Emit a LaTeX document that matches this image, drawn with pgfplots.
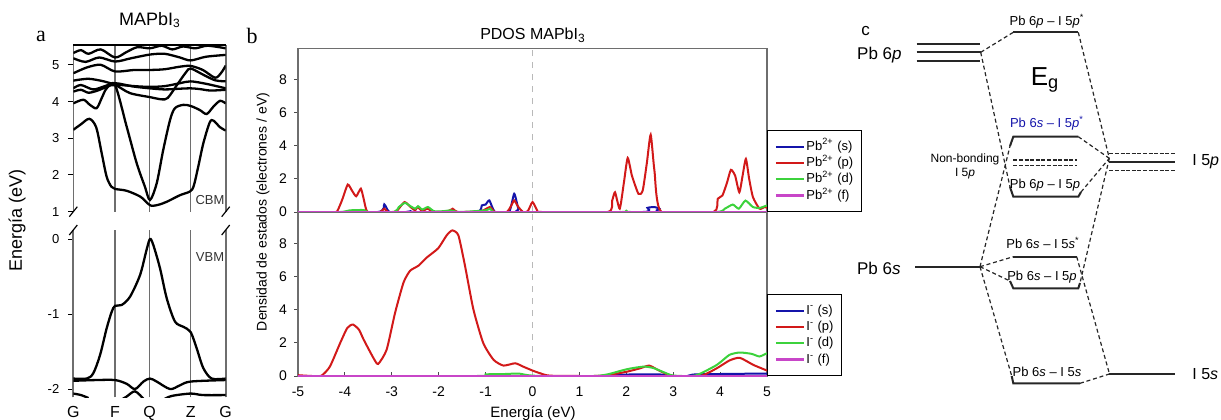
\documentclass[border=0pt]{standalone}
\usepackage{fontspec}
\setmainfont{Liberation Sans}
\newfontfamily\seriffont{Liberation Serif}
\usepackage{pgfplots}
\pgfplotsset{compat=1.18}

\definecolor{sblue}{RGB}{20,20,170}
\definecolor{pred}{RGB}{210,25,25}
\definecolor{dgreen}{RGB}{60,210,60}
\definecolor{fmag}{RGB}{200,70,200}
\definecolor{kline}{RGB}{110,110,110}

\tikzset{
  band/.style={black, line width=1.15pt, smooth, tension=0.5},
  curve/.style={line width=1pt, smooth, tension=0.35},
  mlevel/.style={black!85, line width=1pt},
  mlink/.style={black!85, line width=0.6pt, dash pattern=on 2pt off 1.4pt},
  mnb/.style={black!85, line width=0.6pt, dash pattern=on 2pt off 0.8pt},
}

\pgfplotsset{
  /pgf/number format/assume math mode=true,
  bandaxis/.style={scale only axis, width=76.2pt, xmin=0, xmax=1,
    separate axis lines, x axis line style={draw=none},
    y axis line style={kline, line width=0.8pt},
    ytick pos=left, tick align=outside, major tick length=2.5pt,
    tick style={black, line width=0.5pt},
    xmajorgrids, grid style={kline, line width=0.8pt},
    xtick style={draw=none},
    yticklabel style={font=\fontsize{6.5}{7}\selectfont, xshift=-1pt},
    clip mode=individual, no markers},
  pdos/.style={scale only axis, width=234.5pt, height=81.75pt,
    xmin=-5, xmax=5, ymin=0, ymax=9.88,
    axis line style={kline, line width=0.6pt},
    ytick={0,2,4,6,8}, ytick pos=left, tick align=outside,
    major tick length=2pt, tick style={black!70, line width=0.5pt},
    yticklabel style={font=\fontsize{7}{8}\selectfont},
    xticklabel style={font=\fontsize{7}{8}\selectfont},
    legend style={at={(1,0)}, anchor=south west, draw=black, line width=0.6pt,
      fill=white, font=\fontsize{6.5}{7}\selectfont, row sep=0.5pt,
      nodes={inner sep=0.6pt, text height=5pt, text depth=1.5pt},
      inner xsep=3.5pt, inner ysep=4pt},
    legend cell align=left,
    legend image code/.code={\draw[##1] (0pt,0pt) -- (14pt,0pt);},
    no markers},
}

\begin{document}
\begin{tikzpicture}
\useasboundingbox (0,0) rectangle (610.5pt,-209.5pt);

% ---------------- panel a: band structure (conduction part)
\begin{axis}[bandaxis, at={(36.65pt,-105.85pt)}, anchor=south west,
  height=83.35pt, ymin=1, ymax=5.54, ytick={1,2,3,4,5},
  xtick={0.274,0.5,0.77}, xticklabel=\empty]
\addplot[band] coordinates {(0,3.23)(0.05,3.38)(0.105,3.53)(0.15,3.3)(0.186,2.6)(0.219,1.95)(0.25,1.68)(0.274,1.62)(0.35,1.57)(0.44,1.41)(0.49,1.22)(0.515,1.16)(0.56,1.19)(0.613,1.27)(0.70,1.45)(0.765,1.55)(0.79,1.7)(0.82,2.23)(0.853,2.86)(0.895,3.43)(0.92,3.48)(0.963,3.3)(1,3.21)};
\addplot[band] coordinates {(0,3.95)(0.066,4.05)(0.109,3.91)(0.153,3.82)(0.186,4.09)(0.219,4.36)(0.274,4.45)(0.35,3.32)(0.416,2.32)(0.47,1.68)(0.503,1.32)(0.547,1.77)(0.59,2.68)(0.635,3.5)(0.667,3.82)(0.722,3.91)(0.77,3.88)(0.83,3.77)(0.875,3.66)(0.919,3.86)(0.963,4.02)(1,3.95)};
\addplot[band] coordinates {(0,4.27)(0.05,4.32)(0.1,4.24)(0.16,4.3)(0.22,4.4)(0.274,4.45)(0.372,4.23)(0.503,4.12)(0.58,4.06)(0.62,4.1)(0.68,4.45)(0.74,4.8)(0.77,4.9)(0.853,4.73)(0.93,4.58)(1,4.55)};
\addplot[band] coordinates {(0,4.36)(0.05,4.45)(0.13,4.33)(0.2,4.41)(0.274,4.5)(0.394,4.41)(0.503,4.36)(0.6,4.33)(0.7,4.35)(0.77,4.36)(0.83,4.34)(0.9,4.3)(1,4.32)};
\addplot[band] coordinates {(0,4.57)(0.1,4.62)(0.2,4.55)(0.274,4.47)(0.4,4.42)(0.503,4.4)(0.6,4.42)(0.70,4.5)(0.77,4.55)(0.875,4.48)(1,4.36)};
\addplot[band] coordinates {(0,4.77)(0.09,4.93)(0.18,5.0)(0.274,4.82)(0.4,4.86)(0.503,4.86)(0.6,4.88)(0.7,4.95)(0.77,4.97)(0.85,4.86)(0.93,4.65)(0.97,4.78)(1,4.98)};
\addplot[band] coordinates {(0,5.18)(0.08,5.08)(0.17,5.2)(0.274,5.09)(0.38,5.18)(0.503,5.28)(0.6,5.3)(0.7,5.2)(0.77,5.12)(0.87,5.22)(1,5.27)};
\addplot[band] coordinates {(0,5.32)(0.05,5.4)(0.1,5.3)(0.18,5.42)(0.274,5.2)(0.35,5.35)(0.42,5.48)(0.503,5.45)(0.58,5.52)(0.65,5.42)(0.72,5.5)(0.8,5.45)(0.88,5.52)(1,5.45)};
\draw[black, line width=0.8pt] (rel axis cs:0,1) -- (rel axis cs:1,1);
\draw[black, line width=0.6pt] ([shift={(-2pt,-2.5pt)}]rel axis cs:0,0) -- ([shift={(2pt,2.5pt)}]rel axis cs:0,0);
\draw[black, line width=0.6pt] ([shift={(-2pt,-2.5pt)}]rel axis cs:1,0) -- ([shift={(2pt,2.5pt)}]rel axis cs:1,0);
\end{axis}

% ---------------- panel a: band structure (valence part)
\begin{axis}[bandaxis, at={(36.65pt,-198.65pt)}, anchor=south west,
  height=83.65pt, ymin=-2.11, ymax=0.12, ytick={-2,-1,0},
  xtick={0,0.274,0.5,0.77,1}, xticklabels={G,F,Q,Z,G},
  xticklabel style={font=\fontsize{8}{9}\selectfont, yshift=1.5pt}]
\addplot[band] coordinates {(0,-1.86)(0.088,-1.86)(0.131,-1.79)(0.175,-1.55)(0.219,-1.19)(0.252,-0.97)(0.274,-0.89)(0.317,-0.88)(0.372,-0.77)(0.438,-0.48)(0.48,-0.15)(0.503,0)(0.525,-0.08)(0.569,-0.39)(0.613,-0.79)(0.667,-1.10)(0.722,-1.17)(0.77,-1.24)(0.81,-1.46)(0.853,-1.72)(0.908,-1.86)(1,-1.86)};
\addplot[band] coordinates {(0,-1.89)(0.15,-1.88)(0.274,-1.88)(0.35,-1.93)(0.405,-2.0)(0.46,-1.9)(0.503,-1.86)(0.547,-1.9)(0.635,-2.0)(0.7,-1.95)(0.77,-1.9)(1,-1.88)};
\addplot[band] coordinates {(0.3,-2.16)(0.35,-2.1)(0.405,-2.03)(0.46,-2.13)};
\addplot[band] coordinates {(0.6,-2.13)(0.65,-2.09)(0.77,-2.06)(0.85,-2.08)(1,-2.08)};
\addplot[band] coordinates {(0,-2.06)(0.05,-2.08)(0.1,-2.12)};
\draw[black, line width=0.6pt] ([shift={(-2pt,-2.5pt)}]rel axis cs:0,1) -- ([shift={(2pt,2.5pt)}]rel axis cs:0,1);
\draw[black, line width=0.6pt] ([shift={(-2pt,-2.5pt)}]rel axis cs:1,1) -- ([shift={(2pt,2.5pt)}]rel axis cs:1,1);
\end{axis}

\node[font=\seriffont\fontsize{11}{12}\selectfont] at (20.5pt,-18pt) {a};
\node[font=\fontsize{9}{10}\selectfont] at (75pt,-10pt) {MAPbI\textsubscript{3}};
\node[font=\fontsize{9}{10}\selectfont, rotate=90] at (8.5pt,-110pt) {Energía (eV)};
\node[font=\fontsize{6.5}{7}\selectfont, text=black!80] at (105pt,-100pt) {CBM};
\node[font=\fontsize{6.5}{7}\selectfont, text=black!80] at (105pt,-128.3pt) {VBM};

% ---------------- panel b: Pb2+ projected DOS
\begin{axis}[pdos, at={(149pt,-106pt)}, anchor=south west, xtick=\empty]
\addplot[gray!55, dashed, line width=0.7pt, forget plot] coordinates {(0,0)(0,9.88)};
\addplot[curve, sblue] coordinates {(-5,0)(-3.3,0)(-3.16,0.46)(-3.05,0)(-2.7,0)(-2.6,0.05)(-2.5,0)(-1.2,0)(-1.08,0.4)(-1.0,0.45)(-0.92,0.7)(-0.8,0)(-0.5,0)(-0.39,1.1)(-0.3,0.2)(-0.2,0)(2.35,0)(2.45,0.25)(2.6,0.3)(2.7,0.2)(2.75,0)(5,0)};
\addlegendentry{Pb\textsuperscript{2+} (s)}
\addplot[curve, pred] coordinates {(-5,0)(-4.3,0)(-4.17,0.02)(-4.05,0.8)(-3.94,1.66)(-3.85,1.3)(-3.76,0.95)(-3.66,1.41)(-3.6,0.8)(-3.52,0)(-3.25,0)(-3.16,0.2)(-3.08,0)(-2.9,0.05)(-2.73,0.6)(-2.6,0.3)(-2.5,0.1)(-2.45,0.3)(-2.35,0.05)(-2.24,0.2)(-2.1,0)(-1.8,0.05)(-1.7,0.2)(-1.6,0)(-1.1,0.05)(-0.91,0.3)(-0.8,0)(-0.55,0)(-0.45,0.4)(-0.39,0.7)(-0.3,0.3)(-0.2,0)(-0.1,0.05)(0,0.6)(0.1,0.1)(0.2,0)(1.6,0)(1.7,0.7)(1.76,1.19)(1.86,0.2)(1.95,1.8)(2.03,3.27)(2.12,2.2)(2.26,1.09)(2.35,1.3)(2.44,3.0)(2.52,4.67)(2.6,2.5)(2.75,0)(3.86,0)(3.95,0.8)(4.05,1.0)(4.15,1.8)(4.23,2.55)(4.32,2.2)(4.41,1.19)(4.48,2.2)(4.55,3.21)(4.62,2.0)(4.7,0.9)(4.84,0.2)(4.95,0.3)(5,0.25)};
\addlegendentry{Pb\textsuperscript{2+} (p)}
\addplot[curve, dgreen] coordinates {(-5,0)(-4.1,0)(-3.9,0.1)(-3.6,0.12)(-3.5,0)(-2.95,0)(-2.85,0.3)(-2.72,0.55)(-2.6,0.35)(-2.5,0.2)(-2.44,0.35)(-2.35,0.15)(-2.23,0.3)(-2.1,0.05)(-1.9,0.05)(-1.75,0.1)(-1.55,0)(-1.0,0.1)(-0.9,0.2)(-0.8,0)(0,0)(1.9,0)(2.0,0.08)(2.1,0)(3.9,0)(4.1,0.2)(4.27,0.45)(4.4,0.2)(4.54,0.69)(4.7,0.3)(4.85,0.25)(5,0.4)};
\addlegendentry{Pb\textsuperscript{2+} (d)}
\addplot[curve, fmag, line width=1.3pt] coordinates {(-5,0)(5,0)};
\addlegendentry{Pb\textsuperscript{2+} (f)}
\end{axis}

% ---------------- panel b: I- projected DOS
\begin{axis}[pdos, at={(149pt,-188pt)}, anchor=south west,
  xtick={-5,-4,...,5}, xtick pos=bottom, xtick style={yshift=2pt}]
\addplot[gray!55, dashed, line width=0.7pt, forget plot] coordinates {(0,0)(0,9.88)};
\addplot[curve, sblue] coordinates {(-5,0)(1.6,0)(1.8,0.08)(2.7,0.1)(2.9,0)(3.3,0)(3.5,0.1)(5,0.15)};
\addlegendentry{I\textsuperscript{-} (s)}
\addplot[curve, pred] coordinates {(-5,0.05)(-4.7,0)(-4.5,0.02)(-4.32,0.57)(-4.1,2.0)(-3.95,2.9)(-3.83,3.11)(-3.7,2.8)(-3.6,2.2)(-3.39,1.08)(-3.29,0.73)(-3.11,1.59)(-2.93,3.82)(-2.75,5.65)(-2.61,6.36)(-2.43,6.67)(-2.25,7.17)(-2.01,7.72)(-1.83,8.5)(-1.71,8.8)(-1.58,8.5)(-1.44,6.67)(-1.26,4.02)(-1.05,1.99)(-0.83,0.98)(-0.62,0.63)(-0.37,0.77)(-0.2,0.57)(0,0.33)(0.17,0.16)(0.38,0.02)(1.3,0)(1.6,0.05)(2.01,0.26)(2.3,0.47)(2.49,0.63)(2.72,0.3)(3.0,0)(3.58,0)(3.93,0.47)(4.2,0.94)(4.42,1.1)(4.71,0.67)(5,0.33)};
\addlegendentry{I\textsuperscript{-} (p)}
\addplot[curve, dgreen] coordinates {(-5,0)(-1.2,0)(-1.0,0.1)(-0.6,0.12)(-0.3,0.15)(-0.1,0.05)(0.2,0)(1.3,0)(1.6,0.1)(2.01,0.41)(2.37,0.57)(2.59,0.47)(2.95,0.06)(3.2,0)(3.5,0.05)(3.93,0.67)(4.2,1.28)(4.42,1.42)(4.67,1.34)(4.84,1.18)(5,1.38)};
\addlegendentry{I\textsuperscript{-} (d)}
\addplot[curve, fmag, line width=1.3pt] coordinates {(-5,0)(5,0)};
\addlegendentry{I\textsuperscript{-} (f)}
\end{axis}

\node[font=\seriffont\fontsize{11}{12}\selectfont] at (126pt,-18pt) {b};
\node[font=\fontsize{8}{9}\selectfont] at (266.5pt,-17.5pt) {PDOS MAPbI\textsubscript{3}};
\node[font=\fontsize{7}{8}\selectfont, rotate=90] at (131.5pt,-106pt) {Densidad de estados (electrones / eV)};
\node[font=\fontsize{7.5}{8}\selectfont] at (266.5pt,-207pt) {Energía (eV)};

% ---------------- panel c: molecular-orbital level scheme (pixel-like units)
\begin{axis}[at={(430pt,-209.5pt)}, anchor=south west, scale only axis,
  width=180.5pt, height=209.5pt, xmin=860, xmax=1221, ymin=0, ymax=419,
  y dir=reverse, axis lines=none, clip=false, no markers]
% atomic levels
\addplot[mlevel] coordinates {(916.7,44)(980,44)};
\addplot[mlevel] coordinates {(916.7,52.3)(980.7,52.3)};
\addplot[mlevel] coordinates {(916.7,60.7)(980,60.7)};
\addplot[mlevel] coordinates {(915,266.7)(981.7,266.7)};
\addplot[mlevel] coordinates {(1109.3,161.7)(1175,161.7)};
\addplot[mnb] coordinates {(1109.3,153.3)(1175,153.3)};
\addplot[mnb] coordinates {(1109.3,170.7)(1175,170.7)};
\addplot[mlevel] coordinates {(1109.3,374)(1175,374)};
% molecular levels
\addplot[mlevel] coordinates {(1013.3,32.3)(1078.3,32.3)};
\addplot[mlevel] coordinates {(1010,146)(1013.3,136.7)(1078.3,136.7)};
\addplot[mnb] coordinates {(1013.3,160)(1076.7,160)};
\addplot[mnb] coordinates {(1013.3,165.7)(1076.7,165.7)};
\addplot[mlevel] coordinates {(1010,187)(1013.3,196.7)(1078.3,196.7)(1081,192)};
\addplot[mlevel] coordinates {(1013.3,256.7)(1076.7,256.7)};
\addplot[mlevel] coordinates {(1010,281)(1013.3,288.3)(1078.3,288.3)(1080,283)};
\addplot[mlevel] coordinates {(1011.7,376)(1013.3,383.3)(1080,383.3)};
% correlation lines
\addplot[mlink] coordinates {(980.7,52.3)(1013.3,32.3)};
\addplot[mlink] coordinates {(1078.3,32.3)(1109.3,158.3)};
\addplot[mlink] coordinates {(980.7,52.3)(1010,187)};
\addplot[mlink] coordinates {(980,266.7)(1010,146)};
\addplot[mlink] coordinates {(1078.3,136.7)(1109.3,158.3)};
\addplot[mlink] coordinates {(1081,192)(1109.3,158.3)};
\addplot[mlink] coordinates {(1109.3,158.3)(1080,283)};
\addplot[mlink] coordinates {(980,266.7)(1013.3,256.7)};
\addplot[mlink] coordinates {(980,266.7)(1010,281)};
\addplot[mlink] coordinates {(980,266.7)(1011.7,376)};
\addplot[mlink] coordinates {(1076.7,256.7)(1109.3,373.3)};
\addplot[mlink] coordinates {(1080,383.3)(1109.3,374)};
% labels
\node[anchor=west, inner sep=0pt, font=\fontsize{8.5}{9}\selectfont] at (axis cs:861,31) {c};
\node[anchor=east, inner sep=0pt, font=\fontsize{8.5}{9}\selectfont] at (axis cs:902,55) {Pb 6\textit{p}};
\node[anchor=east, inner sep=0pt, font=\fontsize{8.5}{9}\selectfont] at (axis cs:901,268) {Pb 6\textit{s}};
\node[anchor=west, inner sep=0pt, font=\fontsize{8}{9}\selectfont] at (axis cs:1192,162) {I 5\textit{p}};
\node[anchor=west, inner sep=0pt, font=\fontsize{8}{9}\selectfont] at (axis cs:1192,374) {I 5\textit{s}};
\node[font=\fontsize{13}{14}\selectfont] at (axis cs:1045,80) {E\textsubscript{g}};
\node[font=\fontsize{6.5}{7}\selectfont] at (axis cs:1047,21) {Pb 6\textit{p} -- I 5\textit{p}\textsuperscript{*}};
\node[font=\fontsize{6.5}{7}\selectfont, text=sblue] at (axis cs:1047,123.3) {Pb 6\textit{s} -- I 5\textit{p}\textsuperscript{*}};
\node[font=\fontsize{6}{7}\selectfont, align=center] at (axis cs:965,166) {Non-bonding\\I 5\textit{p}};
\node[font=\fontsize{6.5}{7}\selectfont] at (axis cs:1045,185) {Pb 6\textit{p} -- I 5\textit{p}};
\node[font=\fontsize{6.5}{7}\selectfont] at (axis cs:1043,243) {Pb 6\textit{s} -- I 5\textit{s}\textsuperscript{*}};
\node[font=\fontsize{6.5}{7}\selectfont] at (axis cs:1042,277) {Pb 6\textit{s} -- I 5\textit{p}};
\node[font=\fontsize{6.5}{7}\selectfont] at (axis cs:1047,372) {Pb 6\textit{s} -- I 5\textit{s}};
\end{axis}
\end{tikzpicture}
\end{document}
